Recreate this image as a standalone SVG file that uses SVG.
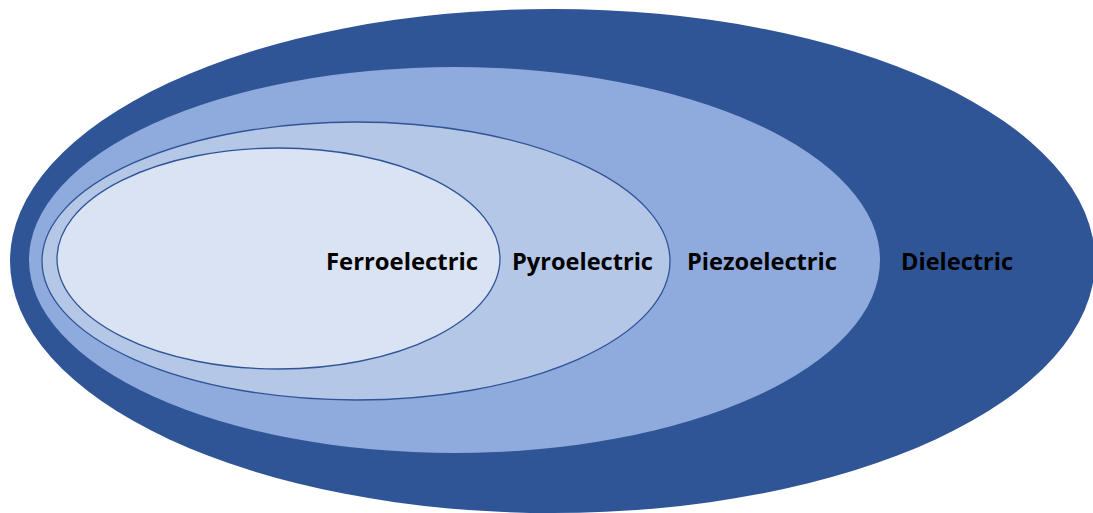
<svg xmlns="http://www.w3.org/2000/svg" width="1093" height="513" viewBox="0 0 1093 513">
<style>
.lbl{font-family:"Open Sans","Liberation Sans",Arial,sans-serif;font-weight:bold;font-size:24px;fill:#000}
.ring{stroke:#2F5597;stroke-width:1.3}
</style>
<rect width="1093" height="513" fill="#fff"/>
<g id="dielectric">
<ellipse cx="552.5" cy="261" rx="542.5" ry="252" fill="#2F5597"/>
<text class="lbl" x="901" y="270" textLength="112" lengthAdjust="spacingAndGlyphs">Dielectric</text>
</g>
<g id="piezoelectric">
<ellipse cx="454.5" cy="260" rx="425.5" ry="193" fill="#8FAADC"/>
<text class="lbl" x="687" y="270" textLength="150" lengthAdjust="spacingAndGlyphs">Piezoelectric</text>
</g>
<g id="pyroelectric">
<ellipse class="ring" cx="356" cy="261" rx="314" ry="139" fill="#B4C7E7"/>
<text class="lbl" x="512" y="270" textLength="141" lengthAdjust="spacingAndGlyphs">Pyroelectric</text>
</g>
<g id="ferroelectric">
<ellipse class="ring" cx="278.5" cy="258.5" rx="221.5" ry="110.5" fill="#DAE3F3"/>
<text class="lbl" x="326" y="270" textLength="152" lengthAdjust="spacingAndGlyphs">Ferroelectric</text>
</g>
<g id="connectors"/>
</svg>
